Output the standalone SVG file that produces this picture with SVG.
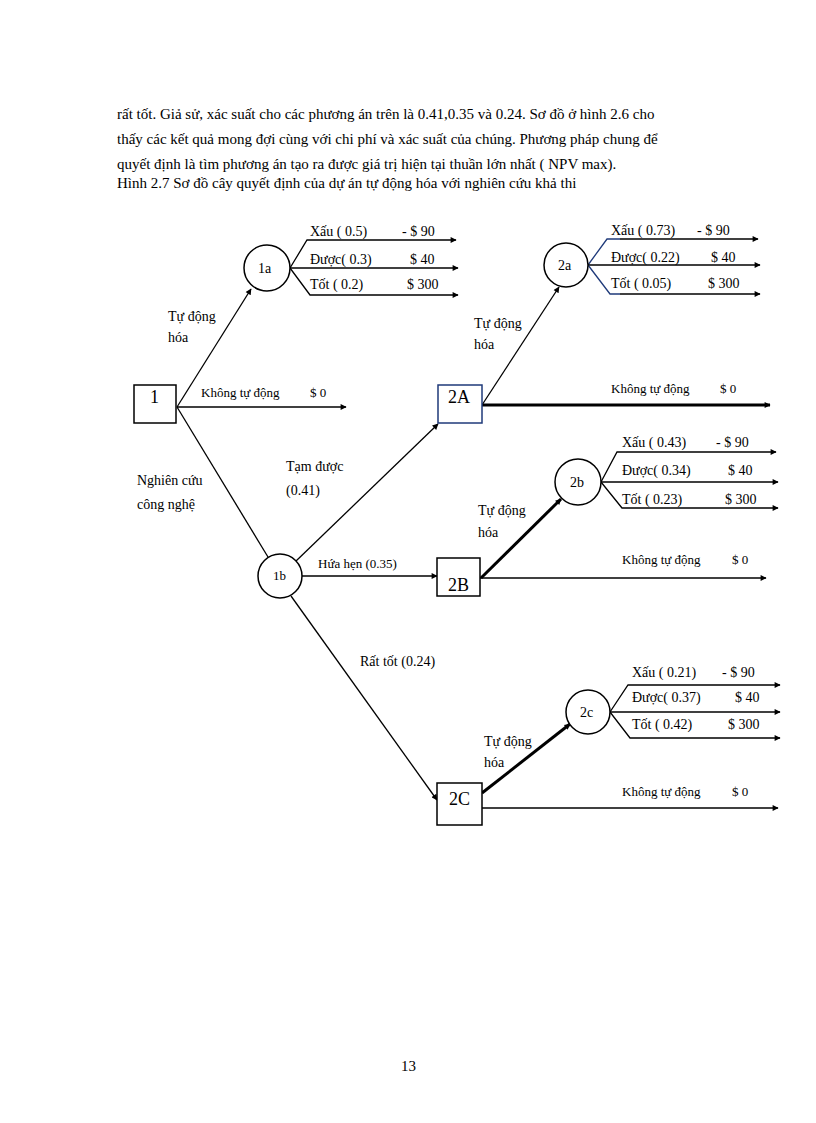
<svg xmlns="http://www.w3.org/2000/svg" width="816" height="1123" viewBox="0 0 816 1123">
<style>
text{font-family:"Liberation Serif","Times New Roman",serif;fill:#000}
.p{font-size:15px}
.s{font-size:14px}
.n{font-size:18px}
.c{font-size:13px}
line,polyline{stroke:#000;stroke-width:1.3;fill:none}
.t{stroke-width:3}
.b{stroke:#1f3a7a}
rect,circle{fill:#fff;stroke:#000;stroke-width:1.5}
</style>
<defs>
<marker id="a" viewBox="0 0 10 10" refX="9" refY="5" markerWidth="8" markerHeight="6" orient="auto" markerUnits="userSpaceOnUse"><path d="M0,0L10,5L0,10z" fill="#000"/></marker>
</defs>
<text class="p" x="117" y="119">rất tốt. Giả sử, xác suất cho các phương án trên là 0.41,0.35 và 0.24. Sơ đồ ở hình 2.6  cho</text>
<text class="p" x="117" y="144">thấy các kết quả mong đợi cùng với chi phí và xác suất  của chúng.  Phương pháp chung để</text>
<text class="p" x="117" y="169">quyết định  là tìm phương án tạo ra được giá trị hiện tại thuần lớn nhất ( NPV max).</text>
<text class="p" x="117" y="188">Hình 2.7 Sơ đồ cây  quyết định của dự án tự động hóa với nghiên cứu khả thi</text>
<text class="p" x="401" y="1071">13</text>
<g id="connectors">
<line x1="177" y1="407" x2="251" y2="289" marker-end="url(#a)"/>
<line x1="177" y1="407" x2="346" y2="407" marker-end="url(#a)"/>
<line x1="177" y1="407" x2="268" y2="557"/>
<polyline points="290,268 307,240 456,240" marker-end="url(#a)"/>
<line x1="290" y1="268" x2="458" y2="268" marker-end="url(#a)"/>
<polyline points="290,268 310,295 458,295" marker-end="url(#a)"/>
<line x1="295" y1="562" x2="438" y2="424" marker-end="url(#a)"/>
<line x1="302" y1="576" x2="437" y2="576" marker-end="url(#a)"/>
<line x1="291" y1="596" x2="437" y2="800" marker-end="url(#a)"/>
<line x1="482" y1="405" x2="559" y2="287" marker-end="url(#a)"/>
<line class="t" x1="482" y1="405" x2="770" y2="405" marker-end="url(#a)"/>
<polyline class="b" points="588,265 607,239 620,239"/>
<line x1="620" y1="239" x2="758" y2="239" marker-end="url(#a)"/>
<line x1="588" y1="265" x2="760" y2="265" marker-end="url(#a)"/>
<polyline class="b" points="588,265 610,294 620,294"/>
<line x1="620" y1="294" x2="760" y2="294" marker-end="url(#a)"/>
<line class="t" x1="481" y1="578" x2="561" y2="499" marker-end="url(#a)"/>
<line x1="480" y1="578" x2="766" y2="578" marker-end="url(#a)"/>
<polyline points="601,482 617,452 776,452" marker-end="url(#a)"/>
<line x1="601" y1="482" x2="778" y2="482" marker-end="url(#a)"/>
<polyline points="601,482 622,508 778,508" marker-end="url(#a)"/>
<line class="t" x1="482" y1="793" x2="570" y2="724" marker-end="url(#a)"/>
<line x1="482" y1="808" x2="778" y2="808" marker-end="url(#a)"/>
<polyline points="610,712 628,685 780,685" marker-end="url(#a)"/>
<line x1="610" y1="712" x2="780" y2="712" marker-end="url(#a)"/>
<polyline points="610,712 630,738 780,738" marker-end="url(#a)"/>
</g>
<g id="labels">
<text class="s" x="168" y="321">Tự động</text><text class="s" x="168" y="342">hóa</text>
<text class="c" x="201" y="397">Không tự động</text><text class="c" x="310" y="397">$ 0</text>
<text class="s" x="137" y="485">Nghiên cứu</text><text class="s" x="137" y="509">công nghệ</text>
<text class="s" x="286" y="471">Tạm được</text><text class="s" x="286" y="495">(0.41)</text>
<text class="c" x="318" y="568">Hứa hẹn (0.35)</text>
<text class="s" x="360" y="666">Rất tốt (0.24)</text>
<text class="s" x="474" y="328">Tự động</text><text class="s" x="474" y="349">hóa</text>
<text class="s" x="478" y="515">Tự động</text><text class="s" x="478" y="537">hóa</text>
<text class="s" x="484" y="746">Tự động</text><text class="s" x="484" y="767">hóa</text>
<text class="s" x="310" y="236">Xấu ( 0.5)</text><text class="s" x="402" y="236">- $ 90</text>
<text class="s" x="310" y="264">Được( 0.3)</text><text class="s" x="410" y="264">$ 40</text>
<text class="s" x="310" y="289">Tốt ( 0.2)</text><text class="s" x="407" y="289">$ 300</text>
<text class="s" x="611" y="235">Xấu ( 0.73)</text><text class="s" x="697" y="235">- $ 90</text>
<text class="s" x="611" y="262">Được( 0.22)</text><text class="s" x="711" y="262">$ 40</text>
<text class="s" x="611" y="288">Tốt ( 0.05)</text><text class="s" x="708" y="288">$ 300</text>
<text class="c" x="611" y="393">Không tự động</text><text class="c" x="720" y="393">$ 0</text>
<text class="s" x="622" y="447">Xấu ( 0.43)</text><text class="s" x="716" y="447">- $ 90</text>
<text class="s" x="622" y="475">Được( 0.34)</text><text class="s" x="728" y="475">$ 40</text>
<text class="s" x="622" y="504">Tốt ( 0.23)</text><text class="s" x="725" y="504">$ 300</text>
<text class="c" x="622" y="564">Không tự động</text><text class="c" x="732" y="564">$ 0</text>
<text class="s" x="632" y="677">Xấu ( 0.21)</text><text class="s" x="722" y="677">- $ 90</text>
<text class="s" x="632" y="702">Được( 0.37)</text><text class="s" x="735" y="702">$ 40</text>
<text class="s" x="632" y="729">Tốt ( 0.42)</text><text class="s" x="728" y="729">$ 300</text>
<text class="c" x="622" y="796">Không tự động</text><text class="c" x="732" y="796">$ 0</text>
</g>
<g id="n1"><rect x="134" y="385" width="42" height="38"/><text class="n" x="150" y="403">1</text></g>
<g id="n1a"><circle cx="267" cy="268" r="23"/><text class="s" x="258" y="273">1a</text></g>
<g id="n1b"><circle cx="280" cy="576" r="22"/><text class="c" x="273" y="580">1b</text></g>
<g id="n2A"><rect x="438" y="385" width="44" height="38" style="stroke:#1f3a7a"/><text class="n" x="448" y="403">2A</text></g>
<g id="n2B"><rect x="437" y="558" width="43" height="38"/><text class="n" x="448" y="591">2B</text></g>
<g id="n2C"><rect x="437" y="783" width="45" height="42"/><text class="n" x="449" y="805">2C</text></g>
<g id="n2a"><circle cx="566" cy="265" r="22"/><text class="s" x="558" y="270">2a</text></g>
<g id="n2b"><circle cx="578" cy="482" r="23"/><text class="s" x="570" y="487">2b</text></g>
<g id="n2c"><circle cx="588" cy="712" r="22"/><text class="s" x="580" y="717">2c</text></g>
</svg>
